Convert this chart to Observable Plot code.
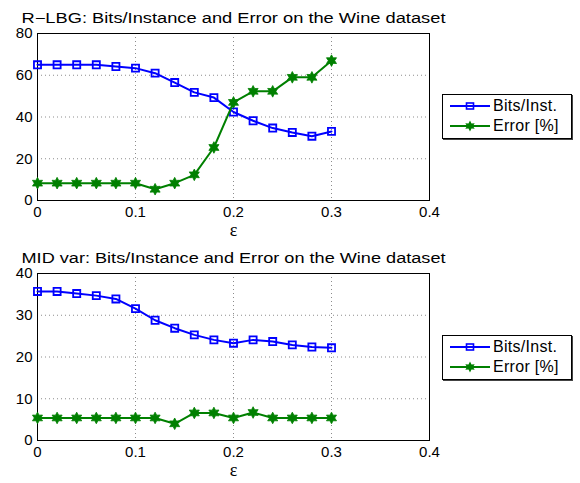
<!DOCTYPE html>
<html>
<head>
<meta charset="utf-8">
<script src="https://cdn.jsdelivr.net/npm/d3@7"></script>
<script src="https://cdn.jsdelivr.net/npm/@observablehq/plot@0.6"></script>
<style>
  body { margin: 0; background: #fff; }
  #wrap { position: relative; width: 580px; height: 483px; font-family: "Liberation Sans", Arial, sans-serif; }
  .panel { position: absolute; left: 0; }
  .legend { position: absolute; left: 442px; width: 128px; height: 43px; border: 1px solid #000; background: #fff; box-shadow: 1px 1px 0 #444; }
  .legend svg { position: absolute; left: 0; top: 0; }
  .legend .lab { position: absolute; left: 50px; font-size: 16px; line-height: 16px; color: #000; letter-spacing: 0.3px; }
</style>
</head>
<body>
<div id="wrap"></div>
<script>
// ---- data ----
const epsilon = [0, 0.02, 0.04, 0.06, 0.08, 0.10, 0.12, 0.14, 0.16, 0.18, 0.20, 0.22, 0.24, 0.26, 0.28, 0.30];
const rlbgBits = [65, 65, 65, 65, 64.2, 63.4, 61, 56.5, 51.8, 49.3, 42.4, 38.2, 34.7, 32.6, 30.8, 33.1];
const rlbgErr  = [8.3, 8.3, 8.3, 8.3, 8.3, 8.3, 5.4, 8.3, 12.3, 25.4, 47, 52.3, 52.3, 59, 59, 67];
const midBits  = [35.7, 35.7, 35.2, 34.7, 33.9, 31.6, 28.8, 26.9, 25.3, 24.1, 23.3, 24.1, 23.7, 22.9, 22.4, 22.2];
const midErr   = [5.4, 5.4, 5.4, 5.4, 5.4, 5.4, 5.4, 4.0, 6.6, 6.6, 5.4, 6.7, 5.4, 5.4, 5.4, 5.4];
const xTicks = [0, 0.1, 0.2, 0.3, 0.4];
const xTickLabels = ["0", "0.1", "0.2", "0.3", "0.4"];
const topYTicks = [0, 20, 40, 60, 80];
const botYTicks = [0, 10, 20, 30, 40];
const seriesNames = ["Bits/Inst.", "Error [%]"];
const titles = ["R\u2212LBG: Bits/Instance and Error on the Wine dataset", "MID var: Bits/Instance and Error on the Wine dataset"];

const BLUE = "#0000ff", GREEN = "#008000";

// six-pointed star (hexagram) symbol
const hexagram = {
  draw(context, size) {
    const R = Math.sqrt(size / Math.PI) * 1.35;
    const r = R * 0.55;
    for (let i = 0; i < 12; i++) {
      const a = -Math.PI / 2 + i * Math.PI / 6;
      const rad = i % 2 === 0 ? R : r;
      const px = rad * Math.cos(a), py = rad * Math.sin(a);
      if (i === 0) context.moveTo(px, py); else context.lineTo(px, py);
    }
    context.closePath();
  }
};

function makePanel(bits, err, yTicks, title, height, mBottom) {
  const bitsData = epsilon.map((e, i) => ({x: e, y: bits[i]}));
  const errData = epsilon.map((e, i) => ({x: e, y: err[i]}));
  const fmtX = d => xTickLabels[xTicks.indexOf(d)] ?? String(d);
  const svg = Plot.plot({
    width: 580,
    height: height,
    marginLeft: 37,
    marginRight: 151,
    marginTop: 33,
    marginBottom: mBottom,
    style: {fontFamily: "'Liberation Sans', Arial, sans-serif", fontSize: "15px", color: "#000", background: "transparent"},
    x: {domain: [0, 0.4], ticks: xTicks, tickFormat: fmtX, label: null},
    y: {domain: [yTicks[0], yTicks[yTicks.length - 1]], ticks: yTicks, label: null},
    marks: [
      Plot.gridX(xTicks, {stroke: "#000", strokeOpacity: 0.45, strokeDasharray: "1,3"}),
      Plot.gridY(yTicks, {stroke: "#000", strokeOpacity: 0.45, strokeDasharray: "1,3"}),
      Plot.frame({stroke: "#000", strokeWidth: 1}),
      Plot.axisX(xTicks, {tickSize: 0, tickPadding: 6, fontSize: 15, tickFormat: fmtX, label: null}),
      Plot.axisY(yTicks, {tickSize: 0, tickPadding: 5, fontSize: 15, label: null}),
      Plot.line(bitsData, {x: "x", y: "y", stroke: BLUE, strokeWidth: 2}),
      Plot.dot(bitsData, {x: "x", y: "y", symbol: "square", r: 4, stroke: BLUE, strokeWidth: 1.8, fill: "none"}),
      Plot.line(errData, {x: "x", y: "y", stroke: GREEN, strokeWidth: 2}),
      Plot.dot(errData, {x: "x", y: "y", symbol: hexagram, r: 4.3, fill: GREEN, stroke: GREEN, strokeWidth: 0.8}),
      Plot.text([title], {frameAnchor: "top", dy: -20, fontSize: 14, fill: "#000", className: "ttl"}),
      Plot.text(["\u03b5"], {frameAnchor: "bottom", dy: 35, fontSize: 18, fontFamily: "'Liberation Serif', 'DejaVu Serif', serif", fill: "#000"})
    ]
  });
  // stretch the title horizontally like the reference
  svg.querySelectorAll("g.ttl text, .ttl text").forEach(t => {
    t.setAttribute("textLength", "424");
    t.setAttribute("lengthAdjust", "spacingAndGlyphs");
  });
  return svg;
}

function makeLegend(top) {
  const div = document.createElement("div");
  div.className = "legend";
  div.style.top = top + "px";
  const star = (() => { const p = d3.path(); hexagram.draw(p, 16 * Math.PI); return p.toString(); })();
  div.innerHTML = `
    <svg width="128" height="43">
      <line x1="7" x2="47" y1="11" y2="11" stroke="${BLUE}" stroke-width="2"/>
      <rect x="23.5" y="8" width="7" height="6" fill="none" stroke="${BLUE}" stroke-width="1.6"/>
      <line x1="7" x2="47" y1="31" y2="31" stroke="${GREEN}" stroke-width="2"/>
      <g transform="translate(27,31)"><path d="${star}" fill="${GREEN}"/></g>
    </svg>
    <div class="lab" style="top:3px">${seriesNames[0]}</div>
    <div class="lab" style="top:23px">${seriesNames[1]}</div>`;
  return div;
}

const wrap = document.getElementById("wrap");
const p1 = document.createElement("div"); p1.className = "panel"; p1.style.top = "0px";
p1.appendChild(makePanel(rlbgBits, rlbgErr, topYTicks, titles[0], 240, 40));
wrap.appendChild(p1);
const p2 = document.createElement("div"); p2.className = "panel"; p2.style.top = "240px";
p2.appendChild(makePanel(midBits, midErr, botYTicks, titles[1], 243, 43));
wrap.appendChild(p2);
wrap.appendChild(makeLegend(94));
wrap.appendChild(makeLegend(335));
</script>
</body>
</html>
